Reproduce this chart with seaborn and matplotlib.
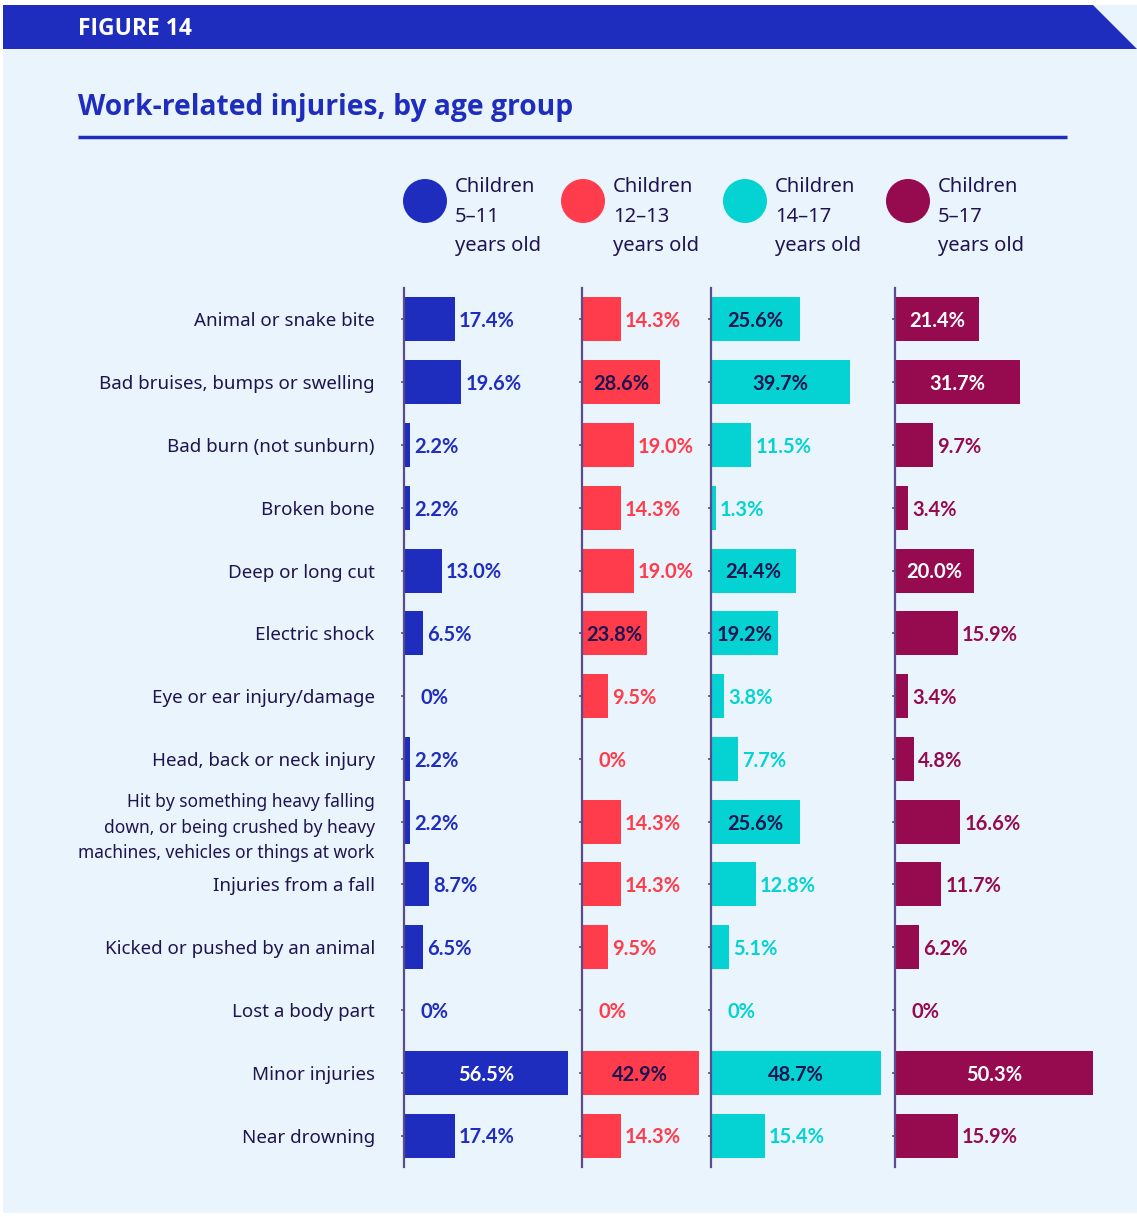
import matplotlib
matplotlib.use("Agg")
import matplotlib.pyplot as plt
import seaborn as sns
from matplotlib.patches import Polygon, Rectangle, Circle

# data
categories = [
    "Animal or snake bite",
    "Bad bruises, bumps or swelling",
    "Bad burn (not sunburn)",
    "Broken bone",
    "Deep or long cut",
    "Electric shock",
    "Eye or ear injury/damage",
    "Head, back or neck injury",
    "Hit by something heavy falling\ndown, or being crushed by heavy\nmachines, vehicles or things at work",
    "Injuries from a fall",
    "Kicked or pushed by an animal",
    "Lost a body part",
    "Minor injuries",
    "Near drowning",
]
age_5_11 = [17.4, 19.6, 2.2, 2.2, 13.0, 6.5, 0, 2.2, 2.2, 8.7, 6.5, 0, 56.5, 17.4]
age_12_13 = [14.3, 28.6, 19.0, 14.3, 19.0, 23.8, 9.5, 0, 14.3, 14.3, 9.5, 0, 42.9, 14.3]
age_14_17 = [25.6, 39.7, 11.5, 1.3, 24.4, 19.2, 3.8, 7.7, 25.6, 12.8, 5.1, 0, 48.7, 15.4]
age_5_17 = [21.4, 31.7, 9.7, 3.4, 20.0, 15.9, 3.4, 4.8, 16.6, 11.7, 6.2, 0, 50.3, 15.9]
group_names = ["Children\n5\u201311\nyears old", "Children\n12\u201313\nyears old",
               "Children\n14\u201317\nyears old", "Children\n5\u201317\nyears old"]

BLUE = "#1f2dbe"
RED = "#ff3c4b"
CYAN = "#05d2d2"
MAROON = "#960a50"
NAVY = "#1e1450"
BG = "#eaf4fc"
AXIS = "#5a4b8c"

series = [age_5_11, age_12_13, age_14_17, age_5_17]
colors = [BLUE, RED, CYAN, MAROON]
inside_color = ["white", NAVY, NAVY, "white"]
inside_min = [30, 20, 19, 19]

W, H = 1137, 1217
fig = plt.figure(figsize=(W / 100, H / 100), dpi=100)
fig.patch.set_facecolor("white")

# background / header layer in pixel coords
bg = fig.add_axes([0, 0, 1, 1], zorder=0)
bg.set_xlim(0, W)
bg.set_ylim(H, 0)
bg.axis("off")
bg.add_patch(Rectangle((3, 5), W - 3, 1208, color=BG, lw=0))
bg.add_patch(Polygon([(3, 5), (1093, 5), (1137, 49), (3, 49)], closed=True, color=BLUE, lw=0))
bg.text(78, 29, "FIGURE 14", color="white", fontsize=16.5, fontweight="bold",
        family="Open Sans", va="center", ha="left")
bg.text(78, 107, "Work-related injuries, by age group", color=BLUE, fontsize=20.3,
        fontweight="bold", family="Open Sans", va="center", ha="left")
bg.plot([78, 1067], [137, 137], color=BLUE, lw=2.5, solid_capstyle="butt")

# legend
leg_x = [425, 583, 745, 908]
for cx, col, name in zip(leg_x, colors, group_names):
    bg.add_patch(Circle((cx, 201), 22, color=col, lw=0))
    for i, line in enumerate(name.split("\n")):
        bg.text(cx + 30, 187 + i * 29.5, line, color=NAVY, fontsize=14.5,
                family="Noto Sans", va="center", ha="left")

# bar panels: left px, width px, px per percent
panels = [(404, 178, 2.91), (582, 129, 2.72), (711, 184, 3.49), (895, 220, 3.94)]
top, bottom = 288, 1167

for k, ((left, width, scale), vals, col) in enumerate(zip(panels, series, colors)):
    ax = fig.add_axes([left / W, 1 - bottom / H, width / W, (bottom - top) / H], zorder=1)
    ax.patch.set_alpha(0)
    sns.barplot(x=vals, y=categories, orient="h", color=col, saturation=1,
                width=0.7, ax=ax)
    ax.set_xlim(0, width / scale)
    ax.set_ylim(len(categories) - 0.5, -0.5)
    ax.set_xlabel("")
    ax.set_ylabel("")
    ax.set_xticks([])
    for s in ["top", "right", "bottom"]:
        ax.spines[s].set_visible(False)
    ax.spines["left"].set_color(AXIS)
    ax.spines["left"].set_linewidth(1.6)
    ax.tick_params(axis="y", length=2, width=1.2, color=AXIS, pad=19)
    if k == 0:
        ax.set_yticks(range(len(categories)))
        ax.set_yticklabels(categories, fontsize=13.5, color=NAVY, family="Noto Sans",
                           multialignment="right", linespacing=1.55)
        ax.get_yticklabels()[8].set_fontsize(12.5)
    else:
        ax.set_yticklabels([])

    for i, v in enumerate(vals):
        label = "0%" if v == 0 else f"{v:.1f}%"
        if v >= inside_min[k]:
            ax.text(v / 2, i + 0.03, label, color=inside_color[k], fontsize=14.5,
                    fontweight="bold", family="Lato", ha="center", va="center")
        else:
            off = 12 if v == 0 else 3
            ax.annotate(label, (v, i + 0.03), xytext=(off, 0), textcoords="offset points",
                        color=col, fontsize=14.5, fontweight="bold", family="Lato",
                        ha="left", va="center")

fig.savefig("out.png", dpi=100, facecolor=fig.get_facecolor())
